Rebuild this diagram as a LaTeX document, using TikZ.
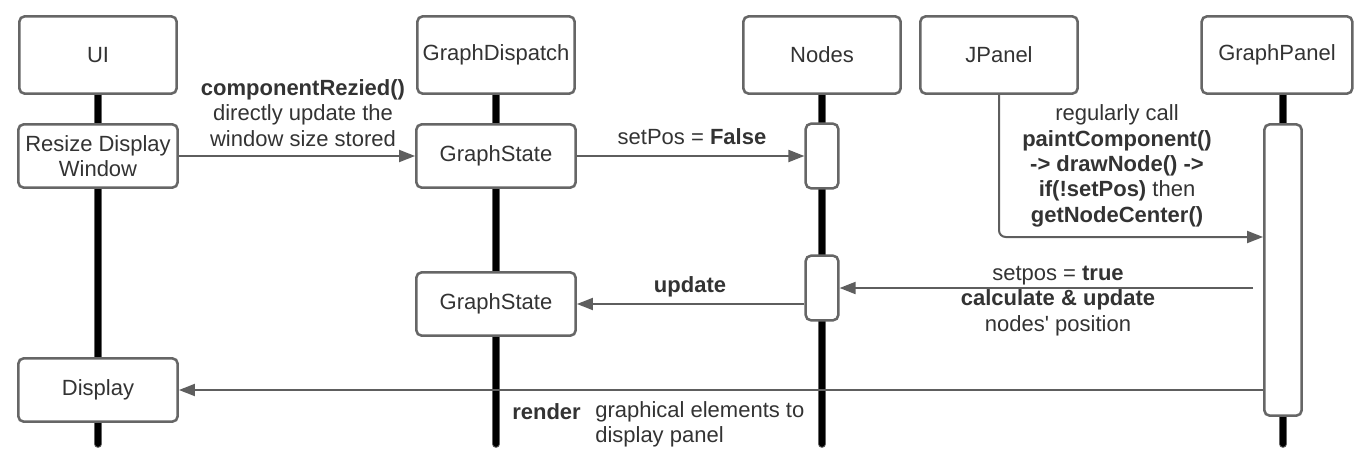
\documentclass[tikz,border=0pt]{standalone}
\usepackage{fontspec}
\setmainfont{Liberation Sans}
\usepackage{xcolor}
\usepackage{tikz}
\usetikzlibrary{arrows.meta, backgrounds}

\definecolor{edgegray}{HTML}{666666}
\definecolor{linegray}{HTML}{5E5E5E}
\definecolor{textgray}{HTML}{333333}

\begin{document}
\begin{tikzpicture}[
    x=0.75pt, y=-0.75pt,
    font=\fontsize{16.5}{19}\selectfont, text=textgray,
    >={Triangle[length=12pt, width=9pt]},
    head_box/.style={draw=edgegray, line width=1.9pt, rounded corners=4pt, fill=white, minimum width=118pt, minimum height=58pt, align=center, inner sep=0pt},
    act_box/.style={head_box, minimum width=119.5pt, minimum height=47.5pt},
    act_bar/.style={draw=edgegray, line width=1.9pt, rounded corners=4pt, fill=white, minimum width=24.5pt, minimum height=48.5pt, inner sep=0pt},
    msg/.style={->, draw=linegray, line width=1.5pt},
    life/.style={draw=edgegray, line width=0.8pt, double=black, double distance=4.2pt, line cap=round},
    lbl/.style={align=center, inner sep=0pt}
]
\useasboundingbox (0,0) rectangle (1354,457);

\node[head_box] (ui) at (98,55)   {UI};
\node[head_box] (gd) at (496,55)  {GraphDispatch};
\node[head_box] (nd) at (822,55)  {Nodes};
\node[head_box] (jp) at (999,55)  {JPanel};
\node[head_box, minimum width=113pt] (gp) at (1277,55) {GraphPanel};

\coordinate (ui-end) at (98,444);
\coordinate (gd-end) at (496,444);
\coordinate (nd-end) at (822,444);
\coordinate (gp-end) at (1283,444);
\begin{pgfonlayer}{background}
\foreach \n in {ui, gd, nd, gp}
    \draw[life] (\n.south -| \n-end) -- (\n-end);
\end{pgfonlayer}

\node[act_box] (resize) at (98,156)  {Resize Display\\Window};
\node[act_box] (gs1)    at (496,156) {GraphState};
\node[act_bar] (nd1)    at (822,156) {};
\node[act_bar] (nd2)    at (822,288) {};
\node[act_box] (gs2)    at (496,304) {GraphState};
\node[act_box] (disp)   at (98,390)  {Display};
\node[act_bar, minimum width=28pt, minimum height=218.5pt] (gpact) at (1283,270) {};

\draw[msg] (resize) -- (gs1);
\draw[msg] (gs1) -- (nd1);
\draw[msg, rounded corners=5pt] (jp.south) |- ([yshift=24.75pt]gpact.west);
\draw[msg, shorten <=7.5pt] (gpact.west |- nd2) -- (nd2);
\draw[msg] (nd2.west |- gs2) -- (gs2);
\draw[msg] (gpact.west |- disp) -- (disp);

\node[lbl] (l-resize) at (303,113) {\textbf{componentRezied()}\\directly update the\\window size stored};
\node[lbl] (l-false)  at (692,137) {setPos = \textbf{False}};
\node[lbl] (l-call)   at (1117,166) {regularly call\\\textbf{paintComponent()}\\\textbf{-> drawNode() ->}\\\textbf{if(!setPos)} then\\\textbf{getNodeCenter()}};
\node[lbl] (l-true)   at (1058,301) {setpos = \textbf{true}\\\textbf{calculate \& update}\\nodes\textquotesingle{} position};
\node[lbl] (l-update) at (690,287) {\textbf{update}};
\node[lbl, anchor=west] (l-render) at (512,412) {\textbf{render}};
\node[lbl, anchor=west, align=left] (l-graph) at (595,424.5) {graphical elements to\\display panel};
\end{tikzpicture}
\end{document}
